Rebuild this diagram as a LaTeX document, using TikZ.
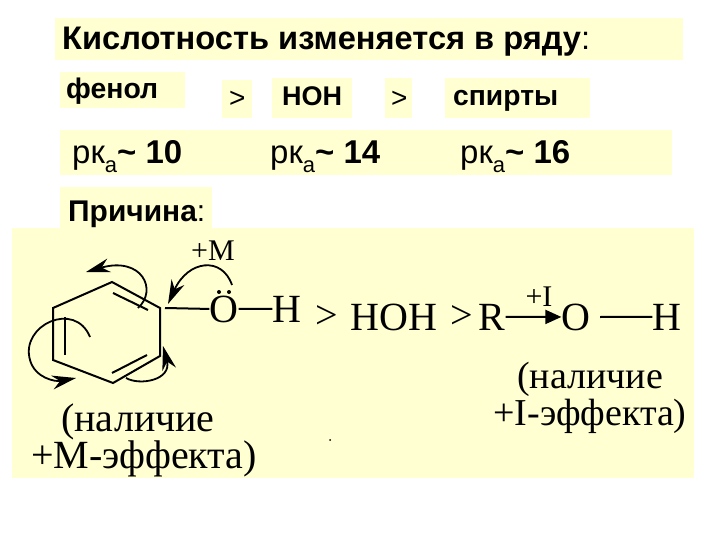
\documentclass[tikz,border=0pt]{standalone}
\usepackage{fontspec}
\setmainfont{Liberation Serif}
\setsansfont{Liberation Sans}
\usetikzlibrary{arrows.meta}
\definecolor{bgy}{RGB}{255,255,210}
\begin{document}
\begin{tikzpicture}[x=1pt,y=-1pt,
  ybox/.style={fill=bgy,draw=none},
  stxt/.style={font=\sffamily\fontsize{25}{28}\selectfont,anchor=base west,inner sep=0},
  ctxt/.style={font=\fontsize{40}{42}\selectfont,anchor=base,inner sep=0},
  bond/.style={line width=2pt},
  curv/.style={line width=1.8pt,-{Stealth[length=24pt,width=14pt]}}]
\useasboundingbox (0,0) rectangle (720,540);
\fill[white] (0,0) rectangle (720,540);
% boxes
\fill[ybox] (55,18) rectangle (683,60);
\fill[ybox] (60,72) rectangle (185,108);
\fill[ybox] (222,80) rectangle (252,118);
\fill[ybox] (272,78) rectangle (352,118);
\fill[ybox] (385,78) rectangle (412,118);
\fill[ybox] (445,78) rectangle (590,118);
\fill[ybox] (60,130) rectangle (672,175);
\fill[ybox] (60,187) rectangle (212,232);
\fill[ybox] (12,228) rectangle (694,478);
% top texts
\node[stxt] (title) at (62,50) {\resizebox{528pt}{!}{\bfseries Кислотность изменяется в ряду\mdseries:}};
\node[stxt,font=\sffamily\bfseries\fontsize{22}{24}\selectfont] (phenol) at (66,99) {\resizebox{92pt}{!}{фенол}};
\node[stxt,font=\sffamily\fontsize{28}{28}\selectfont] (gt1) at (229,108) {>};
\node[stxt,font=\sffamily\bfseries\fontsize{24}{26}\selectfont] (hoh) at (282,106) {\resizebox{60pt}{!}{HOH}};
\node[stxt,font=\sffamily\fontsize{28}{28}\selectfont] (gt2) at (391,108) {>};
\node[stxt,font=\sffamily\bfseries\fontsize{24}{26}\selectfont] (alc) at (453,106) {\resizebox{105pt}{!}{спирты}};
\node[stxt] (pk1) at (72,164) {\resizebox{110pt}{!}{\fontsize{30}{30}\selectfont рк\raisebox{-8pt}{\fontsize{20}{20}\selectfont а}\textbf{\textasciitilde\ 10}}};
\node[stxt] (pk2) at (270,164) {\resizebox{110pt}{!}{\fontsize{30}{30}\selectfont рк\raisebox{-8pt}{\fontsize{20}{20}\selectfont а}\textbf{\textasciitilde\ 14}}};
\node[stxt] (pk3) at (460,164) {\resizebox{110pt}{!}{\fontsize{30}{30}\selectfont рк\raisebox{-8pt}{\fontsize{20}{20}\selectfont а}\textbf{\textasciitilde\ 16}}};
\node[stxt] (cause) at (68,221) {\resizebox{137pt}{!}{\bfseries Причина\mdseries:}};
% benzene
\coordinate (v1) at (112,282);
\coordinate (v2) at (160,308);
\coordinate (v3) at (160,356);
\coordinate (v4) at (113,383);
\coordinate (v5) at (53,360);
\coordinate (v6) at (53,308);
\draw[bond,line join=miter] (v1)--(v2)--(v3)--(v4)--(v5)--(v6)--cycle;
\draw[bond] (113,293)--(148,310);
\draw[bond] (65,317)--(65,355);
\draw[bond] (112,373)--(147,355);
\coordinate (c1) at (165,308);
\node[ctxt] (O) at (224,322) {O};
\fill (219,292) circle (2pt) (229,292) circle (2pt);
\node[ctxt] (H1) at (287,322) {H};
\draw[bond] (c1)--(O.west);
\draw[bond] (O.east)--(H1.west);
\node[ctxt,font=\fontsize{30}{32}\selectfont] (pM) at (213,260) {+M};
% curved arrows
\draw[curv] (232,285) .. controls (222,256) and (188,260) .. (168,304);
\draw[curv] (138,308) .. controls (158,290) and (142,256) .. (86,272);
\draw[curv] (90,337) .. controls (75,300) and (20,325) .. (30,360) .. controls (35,378) and (55,382) .. (76,378);
\draw[curv] (126,378) .. controls (140,386) and (172,380) .. (163,346);
\node[ctxt] (p1) at (138,431) {(наличие};
\node[ctxt] (p2) at (144,468) {+M-эффекта)};
% right side
\node[ctxt] (gt3) at (327,328) {>};
\node[ctxt] (HOH) at (394,330) {HOH};
\node[ctxt] (gt4) at (462,328) {>};
\node[ctxt] (R) at (492,330) {R};
\node[ctxt] (O2) at (576,330) {O};
\node[ctxt] (H2) at (667,330) {H};
\draw[line width=2pt,-{Triangle[length=16pt,width=14pt]}] (R.east) -- (O2.west);
\draw[bond] (600,317) -- (H2.west);
\node[ctxt,font=\fontsize{30}{32}\selectfont] (pI) at (539,306) {+I};
\node[ctxt,font=\fontsize{38}{40}\selectfont] (p3) at (590,388) {(наличие};
\node[ctxt,font=\fontsize{38}{40}\selectfont] (p4) at (590,425) {+I-эффекта)};
\fill (330,440) circle (1pt);
\end{tikzpicture}
\end{document}
